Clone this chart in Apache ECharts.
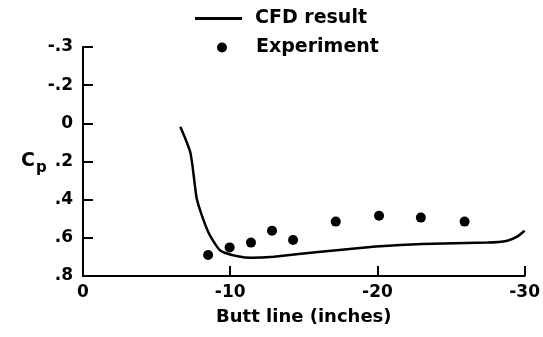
<!DOCTYPE html>
<html>
<head>
<meta charset="utf-8">
<script src="https://cdn.jsdelivr.net/npm/echarts@6/dist/echarts.min.js"></script>
<style>
  html, body { margin: 0; padding: 0; background: #fff; }
  #chart { width: 543px; height: 337px; }
</style>
</head>
<body>
<div id="chart"></div>
<script>
// CFD result line (butt line in inches, Cp)
var cfdX = [-6.61, -6.94, -7.28, -7.43, -7.57, -7.72, -8.06, -8.50, -8.95, -9.29, -9.62, -10.51, -11.40, -12.97, -16.32, -19.89, -23.01, -27.48, -28.82, -29.49, -30.0];
var cfdY = [0.018, 0.078, 0.149, 0.218, 0.306, 0.393, 0.48, 0.568, 0.629, 0.664, 0.678, 0.697, 0.705, 0.699, 0.671, 0.646, 0.632, 0.625, 0.615, 0.594, 0.563];

// experiment points
var expX = [-8.5, -9.96, -11.41, -12.84, -14.27, -17.17, -20.11, -22.95, -25.92];
var expY = [0.69, 0.65, 0.625, 0.563, 0.611, 0.515, 0.484, 0.494, 0.515];

// y tick labels as printed, top to bottom
var yTickLabels = ['-.3', '-.2', '0', '.2', '.4', '.6', '.8'];

var font = 'DejaVu Sans';

var chart = echarts.init(document.getElementById('chart'));

var option = {
    animation: false,
    backgroundColor: '#fff',
    grid: {
        left: 83,
        right: 12,
        top: 47,
        bottom: 61
    },
    legend: [
        {
            data: ['CFD result'],
            left: 190,
            top: 4,
            icon: 'rect',
            itemWidth: 47,
            itemHeight: 3,
            textStyle: {
                color: '#000',
                fontFamily: font,
                fontWeight: 'bold',
                fontSize: 19,
                padding: [0, 0, 0, 8]
            }
        },
        {
            data: ['Experiment'],
            left: 212,
            top: 33,
            icon: 'circle',
            itemWidth: 10,
            itemHeight: 10,
            itemStyle: { color: '#000', opacity: 1 },
            textStyle: {
                color: '#000',
                fontFamily: font,
                fontWeight: 'bold',
                fontSize: 19,
                padding: [0, 0, 0, 24]
            }
        }
    ],
    xAxis: {
        type: 'value',
        inverse: true,
        min: -30,
        max: 0,
        interval: 10,
        name: 'Butt line (inches)',
        nameLocation: 'middle',
        nameGap: 32,
        nameTextStyle: {
            color: '#000',
            fontFamily: font,
            fontWeight: 'bold',
            fontSize: 18
        },
        axisLine: {
            onZero: false,
            lineStyle: { color: '#000', width: 2 }
        },
        axisTick: {
            inside: true,
            length: 10,
            lineStyle: { color: '#000', width: 2 }
        },
        axisLabel: {
            margin: 8,
            color: '#000',
            fontFamily: font,
            fontWeight: 'bold',
            fontSize: 17,
            formatter: function (v) {
                return v === 0 ? '0' : String(v);
            }
        },
        splitLine: { show: false }
    },
    yAxis: {
        type: 'value',
        inverse: true,
        min: -0.4,
        max: 0.8,
        interval: 0.2,
        axisLine: {
            onZero: false,
            lineStyle: { color: '#000', width: 2 }
        },
        axisTick: {
            inside: true,
            length: 10,
            lineStyle: { color: '#000', width: 2 }
        },
        axisLabel: {
            margin: 10,
            color: '#000',
            fontFamily: font,
            fontWeight: 'bold',
            fontSize: 17,
            formatter: function (v) {
                return yTickLabels[Math.round((v + 0.4) / 0.2)];
            }
        },
        splitLine: { show: false }
    },
    graphic: [
        {
            type: 'text',
            left: 21,
            top: 152,
            style: {
                text: 'C',
                fill: '#000',
                font: 'bold 19px "DejaVu Sans"'
            }
        },
        {
            type: 'text',
            left: 36,
            top: 161,
            style: {
                text: 'p',
                fill: '#000',
                font: 'bold 15px "DejaVu Sans"'
            }
        }
    ],
    series: [
        {
            name: 'CFD result',
            type: 'line',
            smooth: 0.15,
            showSymbol: false,
            symbol: 'none',
            lineStyle: { color: '#000', width: 2.5 },
            itemStyle: { color: '#000' },
            data: cfdX.map(function (x, i) { return [x, cfdY[i]]; })
        },
        {
            name: 'Experiment',
            type: 'scatter',
            symbol: 'circle',
            symbolSize: 10,
            itemStyle: { color: '#000', opacity: 1 },
            data: expX.map(function (x, i) { return [x, expY[i]]; })
        }
    ]
};

chart.setOption(option);
window.addEventListener('resize', function () {
    chart.resize();
});
</script>
</body>
</html>
